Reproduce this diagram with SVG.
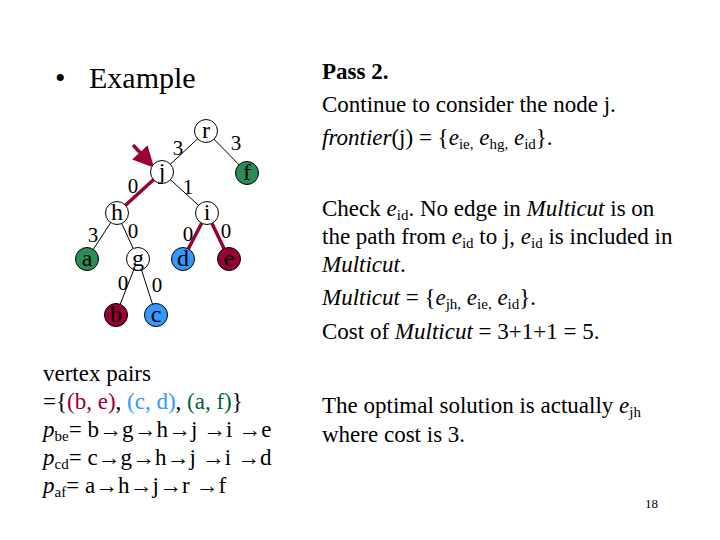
<svg xmlns="http://www.w3.org/2000/svg" width="720" height="540" viewBox="0 0 720 540">
<style>
  text { font-family: "Liberation Serif", "Times New Roman", serif; fill: #000; }
  .t { font-size: 23px; }
  .lbl { font-size: 21px; text-anchor: middle; }
  .nl { font-size: 24px; text-anchor: middle; }
  .edge { stroke: #000; stroke-width: 1; fill: none; }
  .cut { stroke: #990033; stroke-width: 3.5; fill: none; stroke-linecap: round; }
  .node { stroke: #000; stroke-width: 1; fill: #fff; }
  .red { fill: #990033; }
  .blue { fill: #3399ff; }
  .green { fill: #2e8b57; }
  .i { font-style: italic; }
  .sub { font-size: 15px; }
</style>
<defs>
  <marker id="ah" markerWidth="6" markerHeight="6" refX="3" refY="3" orient="auto" markerUnits="strokeWidth">
    <path d="M0,0 L6,3 L0,6 Z" fill="#990033"/>
  </marker>
</defs>
<rect width="720" height="540" fill="#fff"/>

<text x="55" y="88" font-size="30">•</text>
<text x="89" y="88" font-size="30">Example</text>

<g id="connectors">
  <line class="edge" x1="206" y1="131" x2="162" y2="172"/>
  <line class="edge" x1="206" y1="131" x2="247" y2="173"/>
  <line class="cut" x1="162" y1="172" x2="117" y2="213"/>
  <line class="edge" x1="162" y1="172" x2="207" y2="213"/>
  <line class="edge" x1="117" y1="213" x2="87" y2="259"/>
  <line class="edge" x1="117" y1="213" x2="138" y2="259"/>
  <line class="cut" x1="207" y1="213" x2="183" y2="259"/>
  <line class="cut" x1="207" y1="213" x2="229" y2="259"/>
  <line class="edge" x1="138" y1="259" x2="116" y2="315"/>
  <line class="edge" x1="138" y1="259" x2="156" y2="315"/>
  <line x1="133" y1="145" x2="147" y2="160" stroke="#990033" stroke-width="3.5" marker-end="url(#ah)"/>
</g>

<g id="edge-labels">
  <text class="lbl" x="178" y="155">3</text>
  <text class="lbl" x="236" y="150">3</text>
  <text class="lbl" x="133" y="193">0</text>
  <text class="lbl" x="188" y="194">1</text>
  <text class="lbl" x="93" y="242">3</text>
  <text class="lbl" x="133" y="238">0</text>
  <text class="lbl" x="188" y="241">0</text>
  <text class="lbl" x="226" y="238">0</text>
  <text class="lbl" x="123" y="290">0</text>
  <text class="lbl" x="157" y="292">0</text>
</g>

<g id="node-r"><circle class="node" cx="206" cy="131" r="11.5"/><text class="nl" x="206" y="138">r</text></g>
<g id="node-j"><circle class="node" cx="162" cy="172" r="11.5"/><text class="nl" x="162" y="179">j</text></g>
<g id="node-f"><circle class="node green" cx="247" cy="173" r="11.5"/><text class="nl" x="247" y="180">f</text></g>
<g id="node-h"><circle class="node" cx="117" cy="213" r="11.5"/><text class="nl" x="117" y="220">h</text></g>
<g id="node-i"><circle class="node" cx="207" cy="213" r="11.5"/><text class="nl" x="207" y="220">i</text></g>
<g id="node-a"><circle class="node green" cx="87" cy="259" r="11.5"/><text class="nl" x="87" y="266">a</text></g>
<g id="node-g"><circle class="node" cx="138" cy="259" r="11.5"/><text class="nl" x="138" y="266">g</text></g>
<g id="node-d"><circle class="node blue" cx="183" cy="259" r="11.5"/><text class="nl" x="183" y="266">d</text></g>
<g id="node-e"><circle class="node red" cx="229" cy="259" r="11.5"/><text class="nl" x="229" y="266">e</text></g>
<g id="node-b"><circle class="node red" cx="116" cy="315" r="11.5"/><text class="nl" x="116" y="322">b</text></g>
<g id="node-c"><circle class="node blue" cx="156" cy="315" r="11.5"/><text class="nl" x="156" y="322">c</text></g>

<g id="left-text">
  <text class="t" x="43" y="381">vertex pairs</text>
  <text class="t" x="43" y="409">={<tspan fill="#990033">(b, e)</tspan>, <tspan fill="#3399ff">(c, d)</tspan>, <tspan fill="#006633">(a, f)</tspan>}</text>
  <text class="t" x="43" y="437"><tspan class="i">p</tspan><tspan class="sub" dy="4">be</tspan><tspan dy="-4">= b→g→h→j →i →e</tspan></text>
  <text class="t" x="43" y="465"><tspan class="i">p</tspan><tspan class="sub" dy="4">cd</tspan><tspan dy="-4">= c→g→h→j →i →d</tspan></text>
  <text class="t" x="43" y="493"><tspan class="i">p</tspan><tspan class="sub" dy="4">af</tspan><tspan dy="-4">= a→h→j→r →f</tspan></text>
</g>

<g id="right-text">
  <text class="t" x="322" y="79" font-weight="bold">Pass 2.</text>
  <text class="t" x="322" y="112">Continue to consider the node j.</text>
  <text class="t" x="322" y="145"><tspan class="i">frontier</tspan>(j) = {<tspan class="i">e</tspan><tspan class="sub" dy="4">ie,</tspan><tspan dy="-4"> </tspan><tspan class="i">e</tspan><tspan class="sub" dy="4">hg,</tspan><tspan dy="-4"> </tspan><tspan class="i">e</tspan><tspan class="sub" dy="4">id</tspan><tspan dy="-4">}.</tspan></text>

  <text class="t" x="322" y="216">Check <tspan class="i">e</tspan><tspan class="sub" dy="4">id</tspan><tspan dy="-4">.  No edge in </tspan><tspan class="i">Multicut</tspan> is on</text>
  <text class="t" x="322" y="244">the path from <tspan class="i">e</tspan><tspan class="sub" dy="4">id</tspan><tspan dy="-4"> to j, </tspan><tspan class="i">e</tspan><tspan class="sub" dy="4">id</tspan><tspan dy="-4"> is included in</tspan></text>
  <text class="t" x="322" y="272"><tspan class="i">Multicut</tspan>.</text>
  <text class="t" x="322" y="305"><tspan class="i">Multicut</tspan> = {<tspan class="i">e</tspan><tspan class="sub" dy="4">jh,</tspan><tspan dy="-4"> </tspan><tspan class="i">e</tspan><tspan class="sub" dy="4">ie,</tspan><tspan dy="-4"> </tspan><tspan class="i">e</tspan><tspan class="sub" dy="4">id</tspan><tspan dy="-4">}.</tspan></text>
  <text class="t" x="322" y="339">Cost of <tspan class="i">Multicut</tspan> = 3+1+1 = 5.</text>

  <text class="t" x="322" y="413">The optimal solution is actually <tspan class="i">e</tspan><tspan class="sub" dy="4">jh</tspan></text>
  <text class="t" x="322" y="442">where cost is 3.</text>
  <text x="645" y="508" font-size="13">18</text>
</g>
</svg>
